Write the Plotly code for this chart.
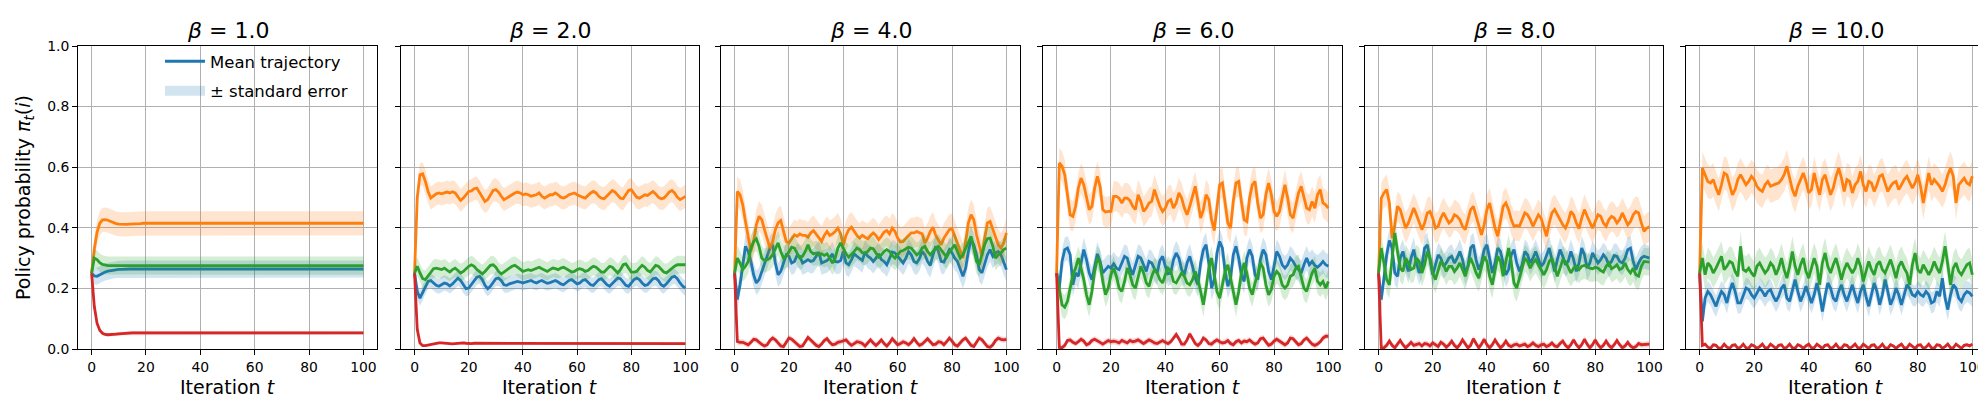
import plotly.graph_objects as go

# iteration index and panel settings
ITER = list(range(101))
BETAS = ["1.0", "2.0", "4.0", "6.0", "8.0", "10.0"]
XTICKS = [0, 20, 40, 60, 80, 100]
YTICKS = [0.0, 0.2, 0.4, 0.6, 0.8, 1.0]

# ---- beta = 1.0 ----
b1_blue = [0.25, 0.241, 0.240, 0.245, 0.250, 0.254, 0.257, 0.259, 0.261, 0.262,
           0.263, 0.263, 0.264, 0.264, 0.264, 0.264, 0.264, 0.264, 0.264, 0.264,
           0.264, 0.264, 0.264, 0.264, 0.264, 0.264, 0.264, 0.264, 0.264, 0.264,
           0.264, 0.264, 0.264, 0.264, 0.264, 0.264, 0.264, 0.264, 0.264, 0.264,
           0.264, 0.264, 0.264, 0.264, 0.264, 0.264, 0.264, 0.264, 0.264, 0.264,
           0.264, 0.264, 0.264, 0.264, 0.264, 0.264, 0.264, 0.264, 0.264, 0.264,
           0.264, 0.264, 0.264, 0.264, 0.264, 0.264, 0.264, 0.264, 0.264, 0.264,
           0.264, 0.264, 0.264, 0.264, 0.264, 0.264, 0.264, 0.264, 0.264, 0.264,
           0.264, 0.264, 0.264, 0.264, 0.264, 0.264, 0.264, 0.264, 0.264, 0.264,
           0.264, 0.264, 0.264, 0.264, 0.264, 0.264, 0.264, 0.264, 0.264, 0.264, 0.264]
b1_orange = [0.25, 0.33, 0.385, 0.415, 0.426, 0.427, 0.425, 0.421, 0.417, 0.414,
             0.412, 0.411, 0.411, 0.411, 0.412, 0.412, 0.413, 0.414, 0.414, 0.415,
             0.415, 0.415, 0.416, 0.416, 0.416, 0.416, 0.416, 0.416, 0.415, 0.415,
             0.415, 0.415, 0.415, 0.415, 0.415, 0.415, 0.415, 0.415, 0.415, 0.415,
             0.415, 0.415, 0.415, 0.415, 0.415, 0.415, 0.415, 0.415, 0.415, 0.415,
             0.415, 0.415, 0.415, 0.415, 0.415, 0.415, 0.415, 0.415, 0.415, 0.415,
             0.415, 0.415, 0.415, 0.415, 0.415, 0.415, 0.415, 0.415, 0.415, 0.415,
             0.415, 0.415, 0.415, 0.415, 0.415, 0.415, 0.415, 0.415, 0.415, 0.415,
             0.415, 0.415, 0.415, 0.415, 0.415, 0.415, 0.415, 0.415, 0.415, 0.415,
             0.415, 0.415, 0.415, 0.415, 0.415, 0.415, 0.415, 0.415, 0.415, 0.415, 0.415]
b1_green = [0.25, 0.300, 0.295, 0.285, 0.279, 0.276, 0.275, 0.275, 0.275, 0.275,
            0.275, 0.275, 0.275, 0.275, 0.275, 0.275, 0.275, 0.275, 0.275, 0.275,
            0.275, 0.275, 0.275, 0.275, 0.275, 0.275, 0.275, 0.275, 0.275, 0.275,
            0.275, 0.275, 0.275, 0.275, 0.275, 0.275, 0.275, 0.275, 0.275, 0.275,
            0.275, 0.275, 0.275, 0.275, 0.275, 0.275, 0.275, 0.275, 0.275, 0.275,
            0.275, 0.275, 0.275, 0.275, 0.275, 0.275, 0.275, 0.275, 0.275, 0.275,
            0.275, 0.275, 0.275, 0.275, 0.275, 0.275, 0.275, 0.275, 0.275, 0.275,
            0.275, 0.275, 0.275, 0.275, 0.275, 0.275, 0.275, 0.275, 0.275, 0.275,
            0.275, 0.275, 0.275, 0.275, 0.275, 0.275, 0.275, 0.275, 0.275, 0.275,
            0.275, 0.275, 0.275, 0.275, 0.275, 0.275, 0.275, 0.275, 0.275, 0.275, 0.275]
b1_red = [0.25, 0.14, 0.085, 0.062, 0.052, 0.048, 0.047, 0.047, 0.048, 0.049,
          0.050, 0.051, 0.052, 0.052, 0.053, 0.053, 0.053, 0.053, 0.053, 0.053,
          0.053, 0.053, 0.053, 0.053, 0.053, 0.053, 0.053, 0.053, 0.053, 0.053,
          0.053, 0.053, 0.053, 0.053, 0.053, 0.053, 0.053, 0.053, 0.053, 0.053,
          0.053, 0.053, 0.053, 0.053, 0.053, 0.053, 0.053, 0.053, 0.053, 0.053,
          0.053, 0.053, 0.053, 0.053, 0.053, 0.053, 0.053, 0.053, 0.053, 0.053,
          0.053, 0.053, 0.053, 0.053, 0.053, 0.053, 0.053, 0.053, 0.053, 0.053,
          0.053, 0.053, 0.053, 0.053, 0.053, 0.053, 0.053, 0.053, 0.053, 0.053,
          0.053, 0.053, 0.053, 0.053, 0.053, 0.053, 0.053, 0.053, 0.053, 0.053,
          0.053, 0.053, 0.053, 0.053, 0.053, 0.053, 0.053, 0.053, 0.053, 0.053, 0.053]

# ---- beta = 2.0 ----
b2_blue = [0.25, 0.190, 0.168, 0.185, 0.207, 0.223, 0.226, 0.218, 0.210, 0.207,
           0.212, 0.218, 0.215, 0.208, 0.215, 0.223, 0.234, 0.226, 0.210, 0.199,
           0.201, 0.212, 0.226, 0.237, 0.240, 0.229, 0.210, 0.199, 0.207, 0.221,
           0.232, 0.234, 0.226, 0.212, 0.210, 0.215, 0.218, 0.221, 0.223, 0.221,
           0.218, 0.221, 0.223, 0.226, 0.221, 0.218, 0.223, 0.226, 0.221, 0.217,
           0.219, 0.223, 0.226, 0.221, 0.215, 0.212, 0.218, 0.226, 0.229, 0.223,
           0.215, 0.218, 0.226, 0.229, 0.221, 0.212, 0.210, 0.218, 0.229, 0.232,
           0.223, 0.212, 0.207, 0.215, 0.226, 0.234, 0.232, 0.221, 0.210, 0.207,
           0.218, 0.229, 0.234, 0.229, 0.218, 0.210, 0.212, 0.223, 0.232, 0.234,
           0.226, 0.212, 0.207, 0.215, 0.226, 0.237, 0.240, 0.232, 0.218, 0.207, 0.201]
b2_orange = [0.25, 0.500, 0.575, 0.578, 0.553, 0.520, 0.498, 0.504, 0.512, 0.515,
             0.512, 0.515, 0.518, 0.515, 0.519, 0.515, 0.504, 0.490, 0.498, 0.509,
             0.520, 0.522, 0.529, 0.531, 0.515, 0.498, 0.487, 0.493, 0.509, 0.523,
             0.526, 0.518, 0.504, 0.493, 0.498, 0.504, 0.509, 0.515, 0.518, 0.515,
             0.509, 0.512, 0.509, 0.504, 0.507, 0.509, 0.515, 0.504, 0.498, 0.504,
             0.509, 0.509, 0.515, 0.509, 0.501, 0.498, 0.502, 0.509, 0.513, 0.515,
             0.509, 0.504, 0.501, 0.498, 0.507, 0.515, 0.520, 0.515, 0.504, 0.498,
             0.496, 0.504, 0.515, 0.523, 0.518, 0.507, 0.498, 0.496, 0.509, 0.523,
             0.526, 0.515, 0.501, 0.498, 0.504, 0.509, 0.507, 0.515, 0.520, 0.512,
             0.501, 0.496, 0.498, 0.507, 0.518, 0.523, 0.515, 0.501, 0.493, 0.498, 0.504]
b2_green = [0.25, 0.273, 0.251, 0.232, 0.229, 0.240, 0.254, 0.265, 0.267, 0.265,
            0.262, 0.267, 0.259, 0.254, 0.262, 0.267, 0.259, 0.251, 0.256, 0.265,
            0.273, 0.278, 0.273, 0.262, 0.254, 0.248, 0.256, 0.267, 0.276, 0.278,
            0.270, 0.256, 0.248, 0.254, 0.262, 0.267, 0.273, 0.276, 0.270, 0.262,
            0.256, 0.259, 0.262, 0.259, 0.262, 0.265, 0.270, 0.265, 0.259, 0.256,
            0.262, 0.267, 0.265, 0.262, 0.267, 0.270, 0.265, 0.259, 0.254, 0.256,
            0.262, 0.265, 0.262, 0.256, 0.259, 0.267, 0.273, 0.270, 0.262, 0.254,
            0.254, 0.265, 0.273, 0.270, 0.259, 0.251, 0.262, 0.278, 0.281, 0.265,
            0.254, 0.254, 0.256, 0.267, 0.276, 0.270, 0.259, 0.254, 0.265, 0.276,
            0.273, 0.262, 0.254, 0.251, 0.259, 0.267, 0.273, 0.278, 0.278, 0.278, 0.278]
b2_red = [0.25, 0.065, 0.020, 0.011, 0.011, 0.013, 0.015, 0.017, 0.019, 0.020,
          0.020, 0.019, 0.018, 0.017, 0.017, 0.018, 0.019, 0.020, 0.020, 0.019,
          0.018, 0.018, 0.019, 0.019, 0.018, 0.018, 0.018, 0.018, 0.018, 0.018,
          0.018, 0.018, 0.018, 0.018, 0.018, 0.018, 0.018, 0.018, 0.018, 0.018,
          0.018, 0.018, 0.018, 0.018, 0.018, 0.018, 0.018, 0.018, 0.018, 0.018,
          0.018, 0.018, 0.018, 0.018, 0.018, 0.018, 0.018, 0.018, 0.018, 0.018,
          0.018, 0.018, 0.018, 0.018, 0.018, 0.018, 0.018, 0.018, 0.018, 0.018,
          0.018, 0.018, 0.018, 0.018, 0.018, 0.018, 0.018, 0.018, 0.018, 0.018,
          0.018, 0.018, 0.018, 0.018, 0.018, 0.018, 0.018, 0.018, 0.018, 0.018,
          0.018, 0.018, 0.018, 0.018, 0.018, 0.018, 0.018, 0.018, 0.018, 0.018, 0.018]

# ---- beta = 4.0 ----
b4_blue = [0.25, 0.163, 0.212, 0.278, 0.339, 0.322, 0.289, 0.245, 0.218, 0.229,
           0.256, 0.278, 0.306, 0.333, 0.344, 0.284, 0.245, 0.256, 0.284, 0.311,
           0.306, 0.284, 0.289, 0.309, 0.306, 0.284, 0.289, 0.295, 0.289, 0.292,
           0.306, 0.320, 0.284, 0.289, 0.292, 0.300, 0.314, 0.289, 0.287, 0.292,
           0.322, 0.284, 0.278, 0.295, 0.314, 0.306, 0.300, 0.292, 0.320, 0.306,
           0.300, 0.289, 0.300, 0.314, 0.295, 0.289, 0.278, 0.300, 0.320, 0.317,
           0.306, 0.295, 0.284, 0.300, 0.322, 0.311, 0.289, 0.284, 0.298, 0.322,
           0.311, 0.289, 0.276, 0.311, 0.339, 0.322, 0.289, 0.287, 0.306, 0.328,
           0.317, 0.300, 0.289, 0.267, 0.240, 0.267, 0.322, 0.361, 0.344, 0.311,
           0.262, 0.251, 0.284, 0.311, 0.328, 0.306, 0.317, 0.322, 0.311, 0.289, 0.262]
b4_orange = [0.25, 0.520, 0.509, 0.476, 0.421, 0.366, 0.322, 0.355, 0.410, 0.438,
             0.427, 0.394, 0.366, 0.333, 0.355, 0.394, 0.416, 0.424, 0.388, 0.355,
             0.350, 0.366, 0.377, 0.372, 0.380, 0.375, 0.375, 0.369, 0.383, 0.391,
             0.380, 0.366, 0.355, 0.375, 0.388, 0.375, 0.380, 0.388, 0.399, 0.380,
             0.344, 0.375, 0.394, 0.402, 0.388, 0.375, 0.366, 0.375, 0.369, 0.364,
             0.375, 0.383, 0.375, 0.361, 0.372, 0.386, 0.391, 0.380, 0.399, 0.388,
             0.366, 0.353, 0.355, 0.366, 0.375, 0.383, 0.383, 0.388, 0.383, 0.380,
             0.350, 0.366, 0.388, 0.402, 0.375, 0.361, 0.344, 0.366, 0.380, 0.394,
             0.397, 0.372, 0.344, 0.322, 0.300, 0.355, 0.416, 0.443, 0.427, 0.377,
             0.339, 0.306, 0.366, 0.416, 0.421, 0.394, 0.369, 0.344, 0.333, 0.350, 0.383]
b4_green = [0.25, 0.300, 0.284, 0.262, 0.273, 0.289, 0.333, 0.355, 0.364, 0.339,
            0.300, 0.292, 0.295, 0.300, 0.311, 0.333, 0.350, 0.322, 0.300, 0.306,
            0.322, 0.336, 0.333, 0.317, 0.300, 0.306, 0.322, 0.344, 0.322, 0.314,
            0.317, 0.311, 0.314, 0.309, 0.314, 0.300, 0.284, 0.300, 0.333, 0.350,
            0.333, 0.314, 0.303, 0.311, 0.322, 0.333, 0.328, 0.317, 0.317, 0.322,
            0.333, 0.331, 0.317, 0.303, 0.311, 0.322, 0.328, 0.322, 0.309, 0.300,
            0.311, 0.322, 0.325, 0.331, 0.336, 0.333, 0.322, 0.311, 0.317, 0.333,
            0.339, 0.322, 0.311, 0.322, 0.333, 0.339, 0.328, 0.314, 0.303, 0.320,
            0.333, 0.344, 0.322, 0.300, 0.311, 0.333, 0.355, 0.372, 0.333, 0.289,
            0.278, 0.311, 0.344, 0.364, 0.366, 0.339, 0.300, 0.311, 0.317, 0.328, 0.333]
b4_red = [0.25, 0.025, 0.022, 0.022, 0.018, 0.014, 0.022, 0.032, 0.030, 0.022,
          0.015, 0.010, 0.014, 0.028, 0.036, 0.030, 0.018, 0.010, 0.008, 0.020,
          0.036, 0.032, 0.024, 0.014, 0.008, 0.010, 0.024, 0.038, 0.030, 0.020,
          0.012, 0.008, 0.016, 0.028, 0.034, 0.022, 0.014, 0.016, 0.022, 0.024,
          0.028, 0.030, 0.020, 0.012, 0.018, 0.024, 0.022, 0.018, 0.010, 0.020,
          0.030, 0.020, 0.012, 0.020, 0.030, 0.018, 0.010, 0.020, 0.034, 0.024,
          0.014, 0.018, 0.024, 0.020, 0.014, 0.022, 0.034, 0.022, 0.012, 0.016,
          0.026, 0.034, 0.024, 0.014, 0.016, 0.024, 0.022, 0.014, 0.024, 0.036,
          0.026, 0.014, 0.010, 0.020, 0.030, 0.036, 0.024, 0.012, 0.008, 0.022,
          0.036, 0.030, 0.018, 0.008, 0.006, 0.014, 0.028, 0.036, 0.032, 0.030, 0.032]

# ---- beta = 6.0 ----
b6_blue = [0.25, 0.201, 0.289, 0.328, 0.333, 0.311, 0.212, 0.251, 0.240, 0.289,
           0.328, 0.295, 0.251, 0.229, 0.278, 0.314, 0.289, 0.251, 0.262, 0.273,
           0.267, 0.281, 0.267, 0.262, 0.284, 0.306, 0.300, 0.267, 0.245, 0.273,
           0.306, 0.300, 0.276, 0.256, 0.289, 0.284, 0.265, 0.251, 0.292, 0.306,
           0.273, 0.248, 0.251, 0.295, 0.317, 0.300, 0.262, 0.245, 0.284, 0.306,
           0.273, 0.234, 0.212, 0.284, 0.328, 0.344, 0.284, 0.201, 0.229, 0.317,
           0.355, 0.333, 0.256, 0.207, 0.234, 0.311, 0.339, 0.300, 0.245, 0.223,
           0.300, 0.328, 0.306, 0.245, 0.229, 0.295, 0.328, 0.311, 0.256, 0.229,
           0.273, 0.322, 0.306, 0.278, 0.267, 0.278, 0.300, 0.289, 0.273, 0.262,
           0.251, 0.278, 0.300, 0.278, 0.289, 0.276, 0.270, 0.278, 0.289, 0.278, 0.273]
b6_orange = [0.25, 0.614, 0.603, 0.575, 0.509, 0.443, 0.438, 0.471, 0.531, 0.564,
             0.542, 0.498, 0.460, 0.471, 0.531, 0.570, 0.537, 0.460, 0.452, 0.454,
             0.454, 0.504, 0.504, 0.498, 0.482, 0.498, 0.498, 0.490, 0.471, 0.460,
             0.509, 0.487, 0.454, 0.465, 0.482, 0.487, 0.526, 0.498, 0.471, 0.454,
             0.465, 0.487, 0.493, 0.465, 0.482, 0.515, 0.498, 0.465, 0.443, 0.471,
             0.504, 0.537, 0.487, 0.432, 0.460, 0.509, 0.493, 0.427, 0.391, 0.476,
             0.542, 0.548, 0.476, 0.416, 0.399, 0.487, 0.548, 0.553, 0.487, 0.427,
             0.421, 0.498, 0.542, 0.553, 0.482, 0.432, 0.443, 0.509, 0.548, 0.509,
             0.454, 0.438, 0.454, 0.498, 0.542, 0.498, 0.443, 0.432, 0.471, 0.515,
             0.537, 0.498, 0.465, 0.460, 0.487, 0.465, 0.509, 0.526, 0.482, 0.476, 0.465]
b6_green = [0.25, 0.196, 0.146, 0.138, 0.157, 0.201, 0.245, 0.267, 0.300, 0.267,
            0.229, 0.179, 0.146, 0.190, 0.256, 0.300, 0.284, 0.223, 0.179, 0.201,
            0.245, 0.267, 0.240, 0.201, 0.190, 0.223, 0.267, 0.245, 0.212, 0.201,
            0.240, 0.273, 0.251, 0.218, 0.207, 0.240, 0.262, 0.251, 0.229, 0.218,
            0.245, 0.267, 0.256, 0.223, 0.218, 0.234, 0.251, 0.240, 0.218, 0.212,
            0.229, 0.256, 0.229, 0.190, 0.146, 0.201, 0.267, 0.300, 0.251, 0.190,
            0.168, 0.212, 0.256, 0.278, 0.234, 0.190, 0.146, 0.190, 0.251, 0.284,
            0.251, 0.201, 0.179, 0.218, 0.245, 0.284, 0.267, 0.212, 0.179, 0.196,
            0.240, 0.256, 0.245, 0.212, 0.201, 0.212, 0.240, 0.245, 0.267, 0.273,
            0.234, 0.201, 0.190, 0.218, 0.251, 0.267, 0.223, 0.212, 0.223, 0.201, 0.223]
b6_red = [0.25, 0.005, 0.004, 0.012, 0.028, 0.030, 0.022, 0.018, 0.024, 0.032,
          0.026, 0.014, 0.018, 0.028, 0.032, 0.028, 0.022, 0.016, 0.022, 0.028,
          0.024, 0.026, 0.024, 0.020, 0.028, 0.024, 0.020, 0.028, 0.024, 0.026,
          0.030, 0.024, 0.018, 0.024, 0.030, 0.026, 0.020, 0.018, 0.024, 0.028,
          0.022, 0.018, 0.024, 0.036, 0.048, 0.034, 0.016, 0.016, 0.030, 0.050,
          0.036, 0.018, 0.012, 0.020, 0.036, 0.030, 0.018, 0.016, 0.024, 0.030,
          0.024, 0.020, 0.022, 0.028, 0.018, 0.014, 0.024, 0.028, 0.020, 0.026,
          0.024, 0.030, 0.022, 0.016, 0.020, 0.034, 0.036, 0.022, 0.012, 0.016,
          0.026, 0.032, 0.026, 0.018, 0.014, 0.020, 0.036, 0.034, 0.022, 0.014,
          0.018, 0.030, 0.036, 0.026, 0.016, 0.012, 0.016, 0.024, 0.036, 0.042, 0.042]

# ---- beta = 8.0 ----
b8_blue = [0.25, 0.163, 0.234, 0.311, 0.358, 0.333, 0.251, 0.240, 0.300, 0.322,
           0.284, 0.256, 0.300, 0.328, 0.284, 0.251, 0.273, 0.333, 0.344, 0.289,
           0.245, 0.278, 0.311, 0.300, 0.273, 0.284, 0.300, 0.306, 0.284, 0.300,
           0.322, 0.295, 0.251, 0.273, 0.333, 0.344, 0.295, 0.262, 0.284, 0.328,
           0.344, 0.300, 0.251, 0.284, 0.333, 0.322, 0.284, 0.245, 0.262, 0.311,
           0.328, 0.284, 0.256, 0.278, 0.322, 0.311, 0.284, 0.300, 0.322, 0.300,
           0.273, 0.284, 0.311, 0.333, 0.295, 0.256, 0.295, 0.328, 0.306, 0.278,
           0.289, 0.322, 0.295, 0.256, 0.284, 0.333, 0.311, 0.267, 0.284, 0.317,
           0.300, 0.284, 0.295, 0.311, 0.300, 0.278, 0.289, 0.309, 0.306, 0.289,
           0.284, 0.300, 0.328, 0.333, 0.289, 0.262, 0.284, 0.300, 0.306, 0.303, 0.300]
b8_orange = [0.25, 0.498, 0.515, 0.526, 0.482, 0.366, 0.410, 0.471, 0.460, 0.432,
             0.399, 0.416, 0.443, 0.465, 0.443, 0.416, 0.394, 0.416, 0.449, 0.454,
             0.432, 0.399, 0.405, 0.432, 0.449, 0.432, 0.416, 0.424, 0.443, 0.438,
             0.427, 0.405, 0.394, 0.427, 0.460, 0.471, 0.438, 0.405, 0.377, 0.410,
             0.460, 0.482, 0.443, 0.399, 0.372, 0.421, 0.471, 0.482, 0.460, 0.427,
             0.405, 0.408, 0.405, 0.427, 0.449, 0.443, 0.427, 0.405, 0.427, 0.443,
             0.432, 0.405, 0.372, 0.416, 0.449, 0.460, 0.443, 0.427, 0.410, 0.399,
             0.421, 0.454, 0.443, 0.416, 0.397, 0.432, 0.460, 0.438, 0.416, 0.399,
             0.421, 0.443, 0.438, 0.416, 0.405, 0.427, 0.438, 0.432, 0.416, 0.427,
             0.449, 0.432, 0.410, 0.421, 0.443, 0.454, 0.449, 0.416, 0.388, 0.399, 0.403]
b8_green = [0.25, 0.333, 0.284, 0.229, 0.212, 0.289, 0.383, 0.322, 0.267, 0.256,
            0.300, 0.284, 0.262, 0.267, 0.300, 0.289, 0.251, 0.278, 0.322, 0.300,
            0.251, 0.229, 0.256, 0.289, 0.278, 0.256, 0.273, 0.273, 0.256, 0.267,
            0.284, 0.262, 0.240, 0.273, 0.300, 0.278, 0.251, 0.234, 0.267, 0.306,
            0.289, 0.240, 0.212, 0.262, 0.306, 0.289, 0.240, 0.289, 0.333, 0.284,
            0.218, 0.201, 0.234, 0.267, 0.300, 0.289, 0.267, 0.284, 0.295, 0.278,
            0.262, 0.245, 0.262, 0.289, 0.300, 0.273, 0.240, 0.267, 0.295, 0.289,
            0.267, 0.251, 0.267, 0.273, 0.262, 0.273, 0.276, 0.273, 0.267, 0.265,
            0.270, 0.267, 0.259, 0.254, 0.273, 0.284, 0.265, 0.270, 0.278, 0.262,
            0.267, 0.284, 0.262, 0.251, 0.267, 0.245, 0.240, 0.273, 0.289, 0.289, 0.287]
b8_red = [0.25, 0.004, 0.004, 0.012, 0.026, 0.012, 0.004, 0.016, 0.028, 0.014,
          0.004, 0.012, 0.022, 0.012, 0.016, 0.018, 0.010, 0.018, 0.016, 0.010,
          0.020, 0.014, 0.008, 0.022, 0.016, 0.006, 0.014, 0.026, 0.012, 0.004,
          0.014, 0.030, 0.016, 0.004, 0.012, 0.034, 0.018, 0.004, 0.016, 0.032,
          0.014, 0.004, 0.014, 0.030, 0.016, 0.004, 0.012, 0.026, 0.012, 0.008,
          0.014, 0.016, 0.010, 0.014, 0.016, 0.008, 0.012, 0.020, 0.012, 0.008,
          0.014, 0.016, 0.008, 0.012, 0.020, 0.010, 0.008, 0.018, 0.026, 0.012,
          0.004, 0.014, 0.030, 0.014, 0.004, 0.014, 0.032, 0.016, 0.004, 0.014,
          0.030, 0.014, 0.004, 0.012, 0.026, 0.012, 0.004, 0.014, 0.028, 0.014,
          0.004, 0.010, 0.022, 0.010, 0.004, 0.008, 0.018, 0.014, 0.014, 0.016, 0.016]

# ---- beta = 10.0 ----
b10_blue = [0.25, 0.091, 0.168, 0.190, 0.179, 0.157, 0.141, 0.168, 0.190, 0.179,
            0.152, 0.190, 0.218, 0.190, 0.152, 0.152, 0.179, 0.201, 0.196, 0.179,
            0.168, 0.185, 0.201, 0.190, 0.174, 0.190, 0.196, 0.174, 0.157, 0.174,
            0.201, 0.212, 0.168, 0.157, 0.196, 0.229, 0.190, 0.157, 0.179, 0.207,
            0.179, 0.152, 0.179, 0.218, 0.179, 0.124, 0.174, 0.218, 0.201, 0.168,
            0.157, 0.190, 0.212, 0.179, 0.157, 0.185, 0.212, 0.179, 0.152, 0.190,
            0.212, 0.174, 0.141, 0.179, 0.218, 0.190, 0.146, 0.179, 0.229, 0.190,
            0.146, 0.168, 0.201, 0.179, 0.146, 0.179, 0.212, 0.201, 0.179, 0.174,
            0.190, 0.179, 0.174, 0.190, 0.179, 0.152, 0.157, 0.190, 0.174, 0.234,
            0.168, 0.130, 0.179, 0.212, 0.201, 0.168, 0.157, 0.179, 0.190, 0.185, 0.174]
b10_orange = [0.25, 0.597, 0.575, 0.553, 0.548, 0.559, 0.531, 0.509, 0.542, 0.581,
              0.575, 0.542, 0.509, 0.526, 0.559, 0.575, 0.559, 0.542, 0.553, 0.570,
              0.559, 0.537, 0.526, 0.520, 0.542, 0.553, 0.537, 0.542, 0.545, 0.548,
              0.559, 0.575, 0.603, 0.564, 0.526, 0.504, 0.537, 0.559, 0.581, 0.553,
              0.515, 0.526, 0.581, 0.542, 0.509, 0.559, 0.575, 0.542, 0.509, 0.531,
              0.570, 0.597, 0.564, 0.520, 0.559, 0.553, 0.515, 0.542, 0.553, 0.586,
              0.542, 0.520, 0.553, 0.548, 0.520, 0.542, 0.570, 0.575, 0.548, 0.520,
              0.537, 0.548, 0.553, 0.526, 0.542, 0.559, 0.570, 0.553, 0.531, 0.548,
              0.575, 0.537, 0.482, 0.531, 0.581, 0.542, 0.559, 0.548, 0.537, 0.520,
              0.542, 0.575, 0.597, 0.570, 0.482, 0.542, 0.553, 0.564, 0.548, 0.542, 0.570]
b10_green = [0.25, 0.300, 0.245, 0.284, 0.273, 0.251, 0.267, 0.284, 0.306, 0.262,
             0.273, 0.289, 0.284, 0.256, 0.240, 0.339, 0.262, 0.256, 0.267, 0.251,
             0.240, 0.273, 0.284, 0.267, 0.251, 0.262, 0.284, 0.273, 0.245, 0.267,
             0.300, 0.262, 0.234, 0.273, 0.322, 0.273, 0.245, 0.278, 0.300, 0.256,
             0.234, 0.267, 0.300, 0.273, 0.212, 0.284, 0.317, 0.273, 0.251, 0.278,
             0.300, 0.267, 0.229, 0.262, 0.284, 0.267, 0.251, 0.267, 0.300, 0.273,
             0.223, 0.256, 0.289, 0.262, 0.245, 0.278, 0.289, 0.262, 0.251, 0.273,
             0.295, 0.267, 0.234, 0.273, 0.289, 0.267, 0.251, 0.212, 0.278, 0.317,
             0.262, 0.251, 0.278, 0.262, 0.245, 0.262, 0.289, 0.267, 0.251, 0.289,
             0.339, 0.278, 0.212, 0.267, 0.284, 0.256, 0.245, 0.262, 0.278, 0.284, 0.245]
b10_red = [0.25, 0.012, 0.016, 0.006, 0.002, 0.014, 0.012, 0.002, 0.004, 0.016,
           0.006, 0.002, 0.012, 0.014, 0.002, 0.006, 0.016, 0.004, 0.002, 0.014,
           0.010, 0.002, 0.008, 0.016, 0.004, 0.004, 0.016, 0.008, 0.002, 0.012,
           0.014, 0.002, 0.006, 0.016, 0.004, 0.002, 0.014, 0.010, 0.002, 0.010,
           0.016, 0.004, 0.004, 0.016, 0.008, 0.002, 0.012, 0.014, 0.002, 0.006,
           0.016, 0.004, 0.002, 0.014, 0.012, 0.002, 0.008, 0.016, 0.004, 0.004,
           0.016, 0.008, 0.002, 0.012, 0.014, 0.002, 0.006, 0.016, 0.004, 0.002,
           0.014, 0.010, 0.002, 0.010, 0.016, 0.004, 0.004, 0.016, 0.008, 0.002,
           0.012, 0.014, 0.002, 0.006, 0.016, 0.004, 0.002, 0.014, 0.012, 0.002,
           0.008, 0.016, 0.004, 0.004, 0.016, 0.008, 0.002, 0.012, 0.014, 0.010, 0.016]

# standard error half-widths per panel, order: blue, orange, green, red
se_b1 = [0.028, 0.040, 0.030, 0.006]
se_b2 = [0.025, 0.038, 0.030, 0.004]
se_b4 = [0.040, 0.050, 0.040, 0.010]
se_b6 = [0.040, 0.050, 0.040, 0.010]
se_b8 = [0.040, 0.050, 0.045, 0.010]
se_b10 = [0.035, 0.055, 0.050, 0.006]

panels = [
    (b1_blue, b1_orange, b1_green, b1_red, se_b1),
    (b2_blue, b2_orange, b2_green, b2_red, se_b2),
    (b4_blue, b4_orange, b4_green, b4_red, se_b4),
    (b6_blue, b6_orange, b6_green, b6_red, se_b6),
    (b8_blue, b8_orange, b8_green, b8_red, se_b8),
    (b10_blue, b10_orange, b10_green, b10_red, se_b10),
]

colors = ["#1f77b4", "#ff7f0e", "#2ca02c", "#d62728"]
fills = ["rgba(31,119,180,0.2)", "rgba(255,127,14,0.2)",
         "rgba(44,160,44,0.2)", "rgba(214,39,40,0.2)"]

W, H = 1986, 399
# axes boxes in pixels (left, right); shared top/bottom
boxes = [(70, 369), (393, 691), (713, 1012), (1035, 1334), (1357, 1655), (1678, 1978)]
top_px, bot_px = 38, 341
FONT = "DejaVu Sans"

fig = go.Figure()

for p, (blue, orange, green, red, se) in enumerate(panels):
    xa = "x" if p == 0 else f"x{p+1}"
    ya = "y" if p == 0 else f"y{p+1}"
    for k, series in enumerate([blue, orange, green, red]):
        upper = [v + se[k] for v in series]
        lower = [v - se[k] for v in series]
        fig.add_trace(go.Scatter(
            x=ITER + ITER[::-1], y=upper + lower[::-1],
            fill="toself", fillcolor=fills[k], line=dict(width=0),
            mode="lines", hoverinfo="skip", xaxis=xa, yaxis=ya,
            showlegend=False))
        fig.add_trace(go.Scatter(
            x=ITER, y=series, mode="lines",
            line=dict(color=colors[k], width=2.8),
            xaxis=xa, yaxis=ya, name="Mean trajectory", legendrank=1,
            legendgroup="mean", showlegend=(p == 0 and k == 0)))

# legend key for the shaded band (a thick translucent swatch, no data)
fig.add_trace(go.Scatter(x=[None], y=[None], mode="lines",
                         line=dict(color=fills[0], width=13),
                         name="± standard error", legendrank=2, legendgroup="se"))

axis_common = dict(showline=True, mirror=True, linecolor="black", linewidth=1,
                   ticks="outside", ticklen=5, tickwidth=1, tickcolor="black",
                   showgrid=True, gridcolor="#b0b0b0", gridwidth=1, automargin=False,
                   zeroline=False, tickfont=dict(family=FONT, size=13.9, color="black"))

layout = dict(width=W, height=H,
              margin=dict(l=0, r=0, t=0, b=0, pad=0, autoexpand=False),
              paper_bgcolor="white", plot_bgcolor="white",
              font=dict(family=FONT, color="black"),
              legend=dict(x=152 / W, y=1 - 36 / H, xanchor="left", yanchor="top",
                          bgcolor="rgba(0,0,0,0)", font=dict(family=FONT, size=16.5),
                          itemwidth=40, tracegroupgap=5))
annotations = []
for p, (l, r) in enumerate(boxes):
    sfx = "" if p == 0 else str(p + 1)
    layout["xaxis" + sfx] = dict(axis_common, domain=[l / W, r / W], range=[-5, 105],
                                 tickvals=XTICKS, anchor="y" + sfx)
    layout["yaxis" + sfx] = dict(axis_common, domain=[1 - bot_px / H, 1 - top_px / H],
                                 range=[0, 1], tickvals=YTICKS, tickformat=".1f",
                                 showticklabels=(p == 0), anchor="x" + sfx)
    cx = (l + r) / 2 / W
    annotations.append(dict(text=f"<i>β</i> = {BETAS[p]}", x=cx, y=1 - 22 / H,
                            xref="paper", yref="paper", showarrow=False,
                            xanchor="center", yanchor="middle",
                            font=dict(family=FONT, size=22)))
    annotations.append(dict(text="Iteration <i>t</i>", x=cx, y=1 - 379 / H,
                            xref="paper", yref="paper", showarrow=False,
                            xanchor="center", yanchor="middle",
                            font=dict(family=FONT, size=19)))
annotations.append(dict(text="Policy probability <i>π<sub>t</sub></i>(<i>i</i>)",
                        x=16 / W, y=1 - 190 / H, xref="paper", yref="paper",
                        xanchor="center", yanchor="middle",
                        textangle=-90, showarrow=False, font=dict(family=FONT, size=19)))
layout["annotations"] = annotations
fig.update_layout(**layout)

fig.write_html("out.html")
